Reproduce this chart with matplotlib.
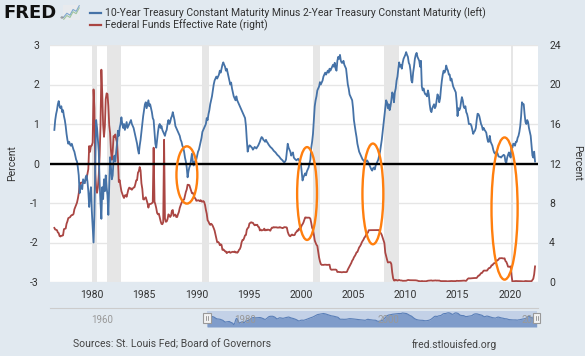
import numpy as np
import pandas as pd
import matplotlib
matplotlib.use("Agg")
import matplotlib.pyplot as plt
from matplotlib.patches import Ellipse, Rectangle
from matplotlib.lines import Line2D
from matplotlib.transforms import blended_transform_factory

plt.rcParams['font.family'] = ['Roboto', 'DejaVu Sans']
plt.rcParams['axes.unicode_minus'] = False

# monthly values, June 1976 .. June 2022
start_year = 1976 + 5 / 12

# 10y minus 2y treasury, percent (left axis)
spread = [
    0.85, 1.10, 1.25, 1.35, 1.50, 1.58, 1.45,
    1.40, 1.45, 1.30, 1.35, 1.20, 1.10, 0.95, 0.75, 0.60, 0.50, 0.55, 0.48,
    0.45, 0.50, 0.42, 0.35, 0.30, 0.20, 0.10, 0.05, -0.10, -0.30, -0.75, -0.60,
    -0.55, -0.65, -0.40, -0.45, -0.50, -0.35, -0.30, -0.45, -0.70, -1.10, -0.80, -0.60,
    -1.20, -1.60, -2.00, -1.30, 0.10, 1.10, 0.90, 0.60, 0.30, -0.50, -1.00, -1.40,
    -0.60, -0.90, -0.40, -0.70, -0.30, -0.60, -0.80, -1.30, -0.60, 0.16, -0.10, -0.40,
    -0.30, 0.10, 0.20, 0.05, 0.30, 0.50, 0.83, 0.70, 0.90, 1.00, 1.17, 1.00,
    0.90, 1.00, 0.85, 0.95, 1.05, 0.90, 0.95, 1.00, 1.05, 1.10, 1.00, 0.95,
    0.90, 0.80, 0.70, 0.60, 0.50, 0.35, 0.25, 0.45, 0.60, 0.80, 1.00, 1.20,
    1.35, 1.50, 1.55, 1.40, 1.50, 1.60, 1.45, 1.50, 1.40, 1.30, 1.15, 1.10,
    0.80, 0.50, 0.40, 0.60, 0.80, 0.95, 1.00, 0.90, 0.95, 0.85, 0.80, 0.75,
    0.70, 0.80, 0.85, 1.00, 1.10, 1.00, 1.05, 1.15, 1.20, 1.30, 1.20, 1.10,
    0.95, 0.90, 0.85, 0.80, 0.75, 0.70, 0.60, 0.55, 0.45, 0.40, 0.30, 0.15,
    0.05, -0.10, -0.35, -0.20, -0.10, -0.05, 0.10, 0.25, 0.05, -0.05, 0.05, 0.05,
    0.10, 0.20, 0.30, 0.35, 0.45, 0.55, 0.65, 0.80, 0.85, 0.90, 0.95, 1.00,
    1.15, 1.10, 1.25, 1.35, 1.50, 1.60, 1.70, 1.85, 2.00, 2.10, 2.15, 2.20,
    2.15, 2.20, 2.25, 2.35, 2.30, 2.40, 2.50, 2.56, 2.50, 2.45, 2.35, 2.40,
    2.30, 2.20, 2.10, 2.00, 2.05, 1.90, 1.80, 1.70, 1.65, 1.60, 1.70, 1.60,
    1.55, 1.50, 1.45, 1.40, 1.35, 1.30, 1.25, 1.20, 1.15, 0.95, 0.60, 0.30,
    0.40, 0.46, 0.45, 0.42, 0.40, 0.35, 0.38, 0.42, 0.40, 0.38, 0.42, 0.45,
    0.50, 0.55, 0.62, 0.67, 0.65, 0.60, 0.58, 0.55, 0.60, 0.55, 0.52, 0.48,
    0.45, 0.42, 0.40, 0.38, 0.35, 0.32, 0.30, 0.28, 0.25, 0.22, 0.20, 0.18,
    0.15, 0.12, 0.10, 0.08, 0.05, 0.03, 0.05, 0.10, 0.30, 0.50, 0.40, 0.35,
    0.30, 0.20, 0.25, 0.28, 0.15, 0.12, 0.10, 0.08, 0.10, 0.12, 0.08, 0.05,
    0.00, -0.20, -0.43, -0.35, -0.30, -0.25, -0.30, -0.20, -0.15, -0.10, 0.00, 0.10,
    0.40, 0.55, 0.75, 1.10, 1.45, 1.60, 1.70, 1.85, 1.90, 1.95, 2.06, 2.00,
    2.05, 2.10, 2.20, 2.25, 2.30, 2.25, 2.30, 2.35, 2.30, 2.40, 2.35, 2.40,
    2.45, 2.50, 2.45, 2.55, 2.40, 2.35, 2.60, 2.70, 2.65, 2.75, 2.60, 2.55,
    2.55, 2.60, 2.50, 2.45, 2.40, 2.20, 2.00, 1.90, 1.75, 1.70, 1.65, 1.60,
    1.40, 1.10, 0.95, 0.80, 0.67, 0.50, 0.40, 0.30, 0.25, 0.20, 0.15, 0.10,
    0.08, 0.05, 0.03, 0.05, 0.08, 0.05, 0.00, -0.05, -0.10, -0.15, -0.18, -0.12,
    -0.10, -0.15, -0.05, 0.00, 0.05, 0.10, 0.20, 0.30, 0.45, 0.60, 0.80, 1.00,
    1.20, 1.40, 1.60, 1.55, 1.40, 1.50, 1.35, 1.45, 1.60, 1.80, 1.75, 1.55,
    1.80, 1.90, 2.10, 2.20, 2.40, 2.56, 2.45, 2.50, 2.40, 2.55, 2.65, 2.70,
    2.75, 2.82, 2.75, 2.70, 2.55, 2.50, 2.35, 2.10, 2.05, 2.30, 2.45, 2.65,
    2.75, 2.80, 2.70, 2.65, 2.60, 2.45, 2.60, 1.95, 1.85, 1.90, 1.80, 1.75,
    1.75, 1.70, 1.85, 1.75, 1.50, 1.35, 1.30, 1.40, 1.45, 1.50, 1.40, 1.45,
    1.60, 1.75, 1.70, 1.55, 1.65, 1.90, 2.10, 2.25, 2.35, 2.30, 2.35, 2.48,
    2.40, 2.35, 2.25, 2.25, 2.10, 2.15, 2.05, 1.95, 1.90, 1.85, 1.80, 1.55,
    1.20, 1.40, 1.35, 1.40, 1.55, 1.68, 1.60, 1.45, 1.40, 1.45, 1.30, 1.25,
    1.15, 1.00, 1.00, 1.00, 0.95, 0.85, 0.75, 0.80, 0.83, 0.90, 1.10, 1.26,
    1.25, 1.20, 1.10, 1.00, 0.95, 0.85, 0.90, 0.85, 0.82, 0.78, 0.65, 0.55,
    0.55, 0.70, 0.55, 0.50, 0.45, 0.35, 0.28, 0.25, 0.28, 0.30, 0.25, 0.18,
    0.17, 0.17, 0.15, 0.18, 0.20, 0.22, 0.20, 0.05, 0.02, 0.15, 0.22, 0.28,
    0.20, 0.15, 0.45, 0.40, 0.50, 0.50, 0.45, 0.55, 0.55, 0.65, 0.70, 0.80,
    0.95, 1.20, 1.55, 1.50, 1.50, 1.25, 1.05, 1.00, 1.10, 1.05, 0.90, 0.80,
    0.70, 0.45, 0.20, 0.15, 0.30, 0.05,
]

# effective federal funds rate, percent (right axis)
fedfunds = [
    5.48, 5.31, 5.29, 5.25, 5.02, 4.95, 4.65,
    4.61, 4.68, 4.69, 4.73, 5.35, 5.39, 5.42, 5.90, 6.14, 6.47, 6.51, 6.56,
    6.70, 6.78, 6.79, 6.89, 7.36, 7.60, 7.81, 8.04, 8.45, 8.96, 9.76, 10.03,
    10.07, 10.06, 10.09, 10.01, 10.24, 10.29, 10.47, 10.94, 11.43, 13.77, 13.18, 13.78,
    13.82, 14.13, 19.50, 17.61, 10.98, 9.47, 9.03, 9.61, 10.87, 12.81, 15.85, 21.50,
    19.08, 15.93, 14.70, 15.72, 18.52, 19.10, 19.04, 17.82, 15.87, 15.08, 13.31, 12.37,
    13.22, 14.78, 14.68, 14.94, 14.45, 14.15, 12.59, 10.12, 10.31, 9.71, 9.20, 8.95,
    8.68, 8.51, 8.77, 8.80, 8.63, 8.98, 9.37, 9.56, 9.45, 9.48, 9.34, 9.47,
    9.56, 9.59, 9.91, 10.29, 10.32, 11.06, 11.23, 11.64, 11.30, 9.99, 9.43, 8.38,
    8.35, 8.50, 8.58, 8.27, 7.97, 7.53, 7.88, 7.90, 7.92, 7.99, 8.05, 13.60,
    8.14, 7.86, 7.48, 6.99, 6.85, 6.92, 6.56, 6.17, 5.89, 5.85, 6.04, 14.40,
    6.43, 6.10, 6.13, 6.37, 6.85, 6.73, 6.58, 6.73, 7.22, 7.29, 6.69, 6.77,
    6.83, 6.58, 6.58, 6.87, 7.09, 7.51, 7.75, 8.01, 8.19, 8.30, 8.35, 8.76,
    9.12, 9.36, 9.85, 9.84, 9.81, 9.53, 9.24, 8.99, 9.02, 8.84, 8.55, 8.45,
    8.23, 8.24, 8.28, 8.26, 8.18, 8.29, 8.15, 8.13, 8.20, 8.11, 7.81, 7.31,
    6.91, 6.25, 6.12, 5.91, 5.78, 5.90, 5.82, 5.66, 5.45, 5.21, 4.81, 4.43,
    4.03, 4.06, 3.98, 3.73, 3.82, 3.76, 3.25, 3.30, 3.22, 3.10, 3.09, 2.92,
    3.02, 3.03, 3.07, 2.96, 3.00, 3.04, 3.06, 3.03, 3.09, 2.99, 3.02, 2.96,
    3.05, 3.25, 3.34, 3.56, 4.01, 4.25, 4.26, 4.47, 4.73, 4.76, 5.29, 5.45,
    5.53, 5.92, 5.98, 6.05, 6.01, 6.00, 5.85, 5.74, 5.80, 5.76, 5.80, 5.60,
    5.56, 5.22, 5.31, 5.22, 5.24, 5.27, 5.40, 5.22, 5.30, 5.24, 5.31, 5.29,
    5.25, 5.19, 5.39, 5.51, 5.50, 5.56, 5.52, 5.54, 5.54, 5.50, 5.52, 5.50,
    5.56, 5.51, 5.49, 5.45, 5.49, 5.56, 5.54, 5.55, 5.51, 5.07, 4.83, 4.68,
    4.63, 4.76, 4.81, 4.74, 4.74, 4.76, 4.99, 5.07, 5.22, 5.20, 5.42, 5.30,
    5.45, 5.73, 5.85, 6.02, 6.27, 6.53, 6.54, 6.50, 6.52, 6.51, 6.51, 6.40,
    5.98, 5.49, 5.31, 4.80, 4.21, 3.97, 3.77, 3.65, 3.07, 2.49, 2.09, 1.82,
    1.73, 1.74, 1.73, 1.75, 1.75, 1.75, 1.73, 1.74, 1.75, 1.75, 1.34, 1.24,
    1.24, 1.26, 1.25, 1.26, 1.26, 1.22, 1.01, 1.03, 1.01, 1.01, 1.00, 0.98,
    1.00, 1.01, 1.00, 1.00, 1.00, 1.03, 1.26, 1.43, 1.61, 1.76, 1.93, 2.16,
    2.28, 2.50, 2.63, 2.79, 3.00, 3.04, 3.26, 3.50, 3.62, 3.78, 4.00, 4.16,
    4.29, 4.49, 4.59, 4.79, 4.94, 4.99, 5.24, 5.25, 5.25, 5.25, 5.25, 5.24,
    5.25, 5.26, 5.26, 5.25, 5.25, 5.25, 5.26, 5.02, 4.94, 4.76, 4.49, 4.24,
    3.94, 2.98, 2.61, 2.28, 1.98, 2.00, 2.01, 2.00, 1.81, 0.97, 0.39, 0.16,
    0.15, 0.22, 0.18, 0.15, 0.18, 0.21, 0.16, 0.16, 0.15, 0.12, 0.12, 0.12,
    0.11, 0.13, 0.16, 0.20, 0.20, 0.18, 0.18, 0.19, 0.19, 0.19, 0.19, 0.18,
    0.17, 0.16, 0.14, 0.10, 0.09, 0.09, 0.07, 0.10, 0.08, 0.07, 0.08, 0.07,
    0.08, 0.10, 0.13, 0.14, 0.16, 0.16, 0.16, 0.13, 0.14, 0.16, 0.16, 0.16,
    0.14, 0.15, 0.14, 0.15, 0.11, 0.09, 0.09, 0.08, 0.08, 0.09, 0.08, 0.09,
    0.07, 0.07, 0.08, 0.09, 0.09, 0.10, 0.09, 0.09, 0.09, 0.09, 0.09, 0.12,
    0.11, 0.11, 0.11, 0.12, 0.12, 0.13, 0.13, 0.14, 0.14, 0.12, 0.12, 0.24,
    0.34, 0.38, 0.36, 0.37, 0.37, 0.38, 0.39, 0.40, 0.40, 0.40, 0.41, 0.54,
    0.65, 0.66, 0.79, 0.90, 0.91, 1.04, 1.15, 1.16, 1.15, 1.15, 1.16, 1.30,
    1.41, 1.42, 1.51, 1.69, 1.70, 1.82, 1.91, 1.91, 1.95, 2.19, 2.20, 2.27,
    2.40, 2.40, 2.41, 2.42, 2.39, 2.38, 2.40, 2.13, 2.04, 1.83, 1.55, 1.55,
    1.55, 1.58, 0.65, 0.05, 0.05, 0.08, 0.09, 0.10, 0.09, 0.09, 0.09, 0.09,
    0.09, 0.08, 0.07, 0.07, 0.06, 0.08, 0.10, 0.09, 0.08, 0.08, 0.08, 0.08,
    0.08, 0.08, 0.20, 0.33, 0.77, 1.58,
]

recessions = [(1980.0, 1980.5), (1981.5, 1982.83), (1990.5, 1991.17),
              (2001.17, 2001.83), (2007.92, 2009.42), (2020.08, 2020.3)]

# hand drawn orange rings: centre year, centre (left axis), width in years, height
ring_x = [1989.1, 2000.6, 2006.9, 2019.5]
ring_y = [-0.29, -0.76, -0.77, -1.14]
ring_w = [2.0, 1.9, 2.0, 2.5]
ring_h = [1.45, 2.35, 2.55, 3.6]

left_ticks = [-3, -2, -1, 0, 1, 2, 3]
right_ticks = [0, 4, 8, 12, 16, 20, 24]
year_ticks = [1980, 1985, 1990, 1995, 2000, 2005, 2010, 2015, 2020]
nav_years = [1960, 1980, 2000, 2020]
nav_start, nav_end = 1954.5, 2022.6

blue_name = "10-Year Treasury Constant Maturity Minus 2-Year Treasury Constant Maturity (left)"
red_name = "Federal Funds Effective Rate (right)"

BG = '#e1e9f0'
BLUE = '#4572a7'
RED = '#aa4643'
TXT = '#333333'

t = start_year + np.arange(len(spread)) / 12.0
t2 = start_year + np.arange(len(fedfunds)) / 12.0

W, H = 585, 356
def box(l, top, r, b):
    return [l / W, 1 - b / H, (r - l) / W, (b - top) / H]

fig = plt.figure(figsize=(5.85, 3.56), dpi=100, facecolor=BG)

ax = fig.add_axes(box(50, 45, 538, 282))
ax2 = ax.twinx()
ax.set_zorder(ax2.get_zorder() + 1)
ax.patch.set_visible(False)
ax2.patch.set_visible(True)
ax2.patch.set_facecolor('white')

xmin, xmax = 1976.0, 2022.7
ax.set_xlim(xmin, xmax)
ax.set_ylim(-3, 3)
ax2.set_ylim(0, 24)

for a, b in recessions:
    ax2.axvspan(a, b, color='#e6e6e6', lw=0, zorder=0.5)
ax2.set_yticks(right_ticks)
ax2.grid(axis='y', color='#e6e6e6', lw=1, zorder=0.6)
ax2.set_axisbelow(True)

ax2.plot(t2, fedfunds, color=RED, lw=1.3, zorder=2)
ax.plot(t, spread, color=BLUE, lw=1.3, zorder=2)
ax.axhline(0, color='black', lw=1.7, zorder=3)

for cx, cy, w, h in zip(ring_x, ring_y, ring_w, ring_h):
    ax.add_patch(Ellipse((cx, cy), w, h, fill=False, ec='#ff7f0e', lw=1.7, zorder=5))

ax.set_yticks(left_ticks)
ax.set_yticklabels([str(v) for v in left_ticks])
ax.set_xticks(year_ticks)
for a in (ax, ax2):
    for s in a.spines.values():
        s.set_visible(False)
ax.tick_params(axis='y', length=0, pad=8, labelsize=7.5, labelcolor=TXT)
ax.tick_params(axis='x', length=0, pad=6, labelsize=7.5, labelcolor=TXT)
ax2.tick_params(axis='y', length=0, pad=8, labelsize=7.5, labelcolor=TXT)

fig.text(12 / W, 1 - 163 / H, 'Percent', rotation=90, ha='center', va='center',
         fontsize=7.5, color=TXT)
fig.text(577 / W, 1 - 163 / H, 'Percent', rotation=270, ha='center', va='center',
         fontsize=7.5, color=TXT)

# header: logo and legend
fig.text(3 / W, 1 - 13 / H, 'FRED', fontsize=13, fontweight='heavy',
         family='DejaVu Sans', color='#111111', ha='left', va='center')
fig.text(59 / W, 1 - 19 / H, '\u00ae', fontsize=3, family='DejaVu Sans', color='#111111')
icon = fig.add_axes(box(63, 5, 80, 20))
icon.set_facecolor('#e8eaed')
icon_line = [1, 2, 1.5, 3, 2.5, 4]
icon.plot(range(len(icon_line)), icon_line, color='#7fa7cf', lw=0.8)
icon.plot(range(len(icon_line)), [v - 0.6 for v in icon_line], color='#9fc49f', lw=0.8)
icon.set_xticks([])
icon.set_yticks([])
for s in icon.spines.values():
    s.set_visible(False)

fig.add_artist(Line2D([90 / W, 101 / W], [1 - 13 / H] * 2, color=BLUE, lw=1.6))
fig.add_artist(Line2D([90 / W, 101 / W], [1 - 25 / H] * 2, color=RED, lw=1.6))
fig.text(105 / W, 1 - 13 / H, blue_name, fontsize=7.5, color=TXT, va='center')
fig.text(105 / W, 1 - 25 / H, red_name, fontsize=7.5, color=TXT, va='center')

# navigator strip
nav = fig.add_axes(box(50, 308, 538, 327))
nav.patch.set_visible(False)
nav.set_xlim(nav_start, nav_end)
smooth = pd.Series(spread).rolling(4, min_periods=1, center=True).mean().values
nav.set_ylim(-2.4, 4.5)
for k, s in nav.spines.items():
    s.set_visible(k == 'top')
nav.spines['top'].set_color('#cccccc')
nav.set_xticks([])
nav.set_yticks([])
nav.axvspan(t[0], t[-1], ymin=0, ymax=16 / 19, color='#c3d1e7', lw=0, zorder=1)
nav.fill_between(t, smooth, -2.4, color='#7f9cca', lw=0, zorder=2)
nav.plot(t, smooth, color='#5a7fb8', lw=0.8, zorder=3)
bt = blended_transform_factory(nav.transData, nav.transAxes)
for y in nav_years:
    nav.text(y + 0.25, 7 / 19, str(y), transform=bt, fontsize=7, color='#999999',
             ha='left', va='center', zorder=4, clip_on=True)
for edge in (t[0], t[-1]):
    nav.add_patch(Rectangle((edge - 0.5, 4 / 19), 1.0, 10 / 19, transform=bt,
                            fc='#f2f2f2', ec='#999999', lw=0.8, zorder=5, clip_on=False))
    nav.plot([edge - 0.15, edge - 0.15], [7 / 19, 11 / 19], transform=bt, color='#777777',
             lw=0.5, zorder=6, clip_on=False)
    nav.plot([edge + 0.15, edge + 0.15], [7 / 19, 11 / 19], transform=bt, color='#777777',
             lw=0.5, zorder=6, clip_on=False)

fig.text(73 / W, 1 - 345 / H, 'Sources: St. Louis Fed; Board of Governors', fontsize=7.5,
         color='#444444', va='center')
fig.text(412 / W, 1 - 345 / H, 'fred.stlouisfed.org', fontsize=7.5, color='#444444',
         va='center')

fig.savefig('out.png', dpi=100, facecolor=BG)
